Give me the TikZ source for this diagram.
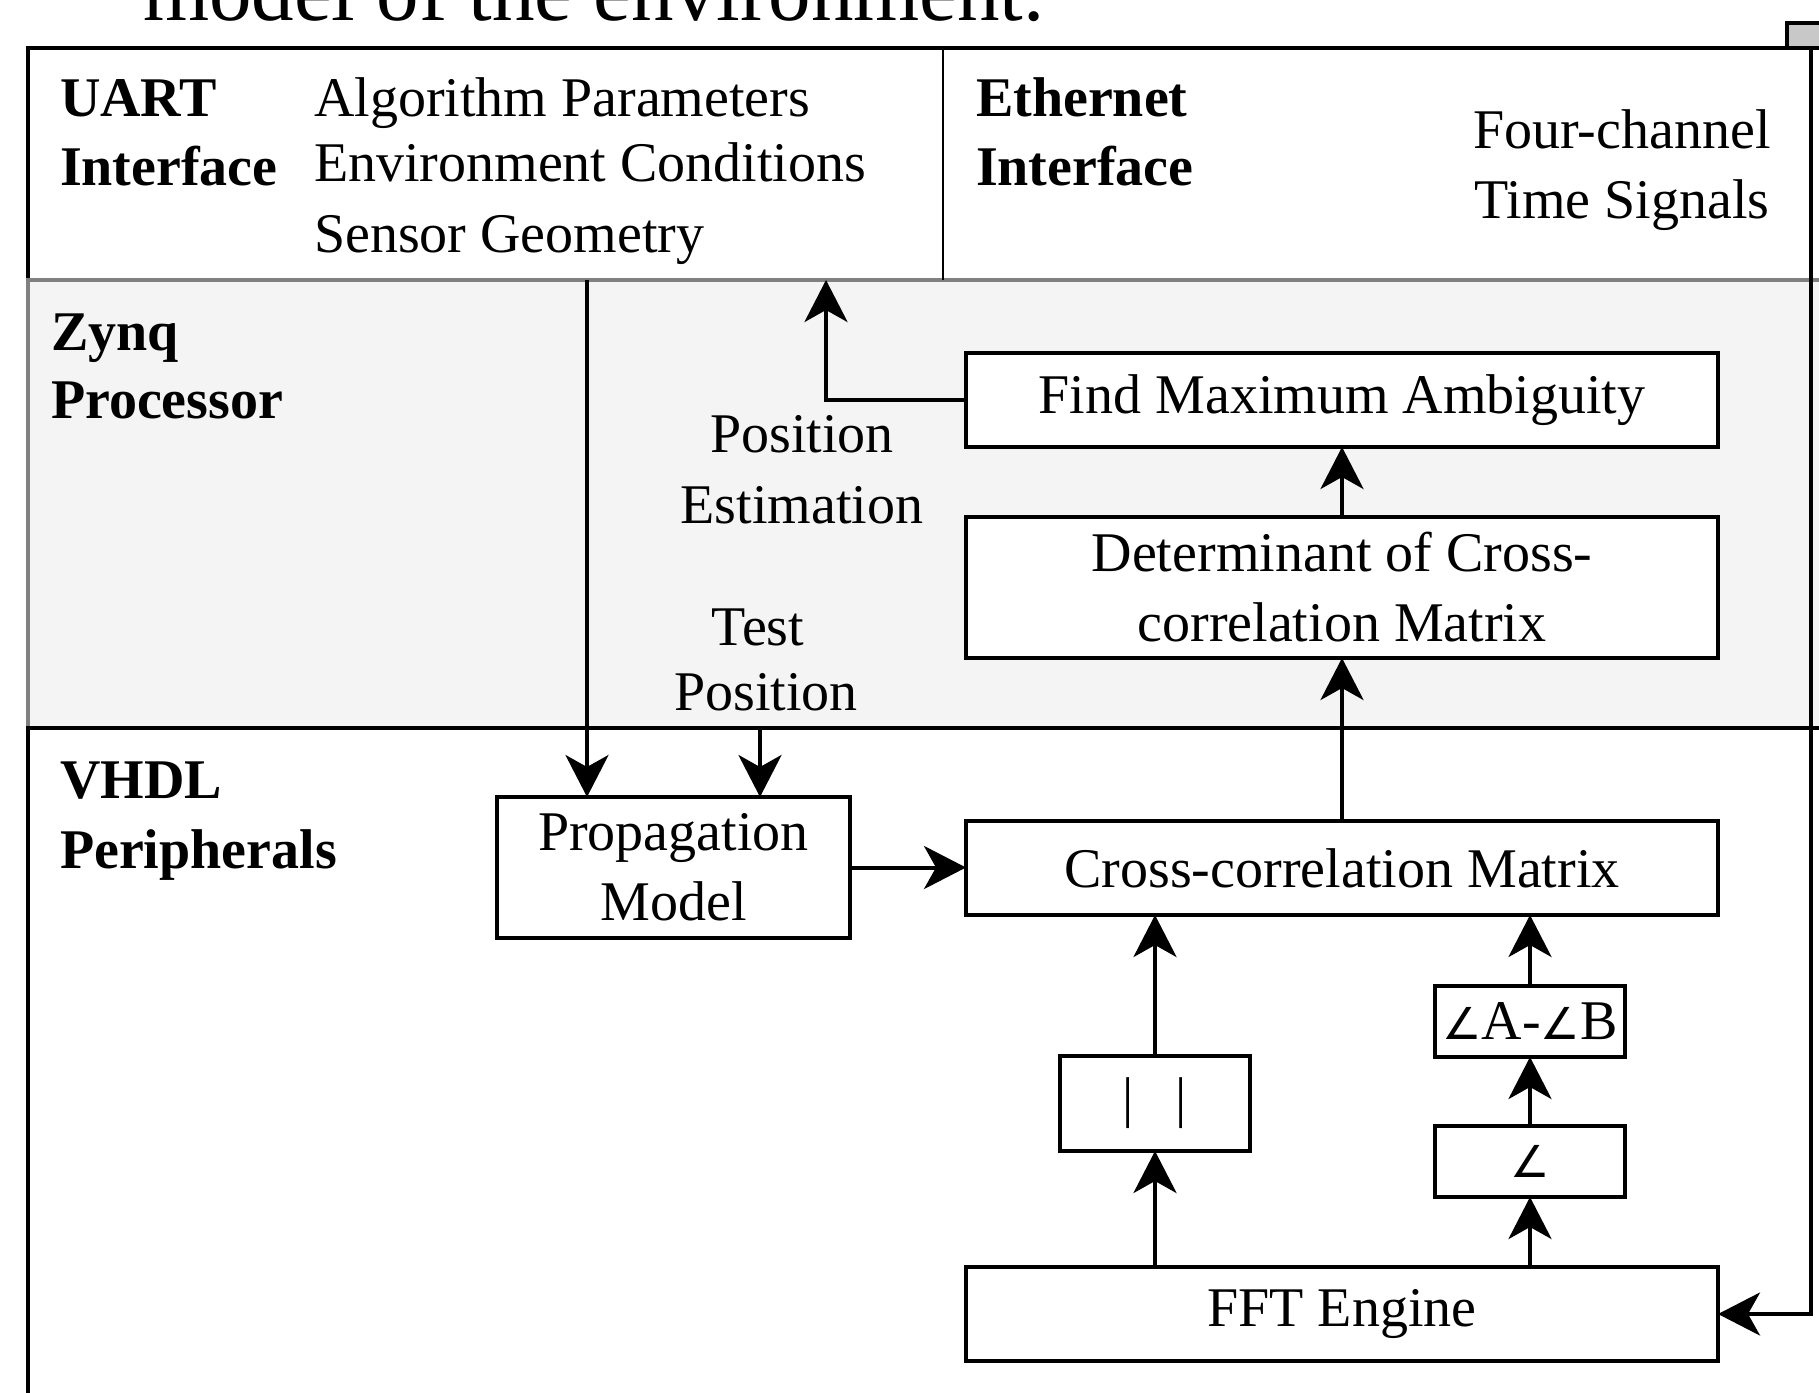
\documentclass[tikz,border=0pt]{standalone}
\usepackage{fontspec}
\setmainfont{Liberation Serif}
\newfontfamily\symfont{DejaVu Sans}
\usetikzlibrary{arrows.meta}
\definecolor{zfill}{HTML}{F4F4F4}
\definecolor{zline}{HTML}{808080}
\definecolor{portfill}{HTML}{C8C8C8}
\newcommand{\ang}{{\symfont\fontsize{22pt}{22pt}\selectfont ∠}}
\begin{document}
\begin{tikzpicture}[x=0.5pt,y=-0.5pt,
  every node/.style={font=\fontsize{28pt}{35pt}\selectfont, inner sep=0pt, outer sep=0pt},
  blk/.style={draw, line width=2pt, fill=white, rectangle, align=center},
  band/.style={draw, line width=2pt, rectangle, anchor=north west, minimum width=906pt},
  arr/.style={line width=2pt, -{Stealth[length=21pt,width=21.5pt,inset=6pt]}},
  lbl/.style={anchor=base west}]
\useasboundingbox (0,0) rectangle (1819,1392);
\clip (0,0) rectangle (1819,1392);

% cropped caption text at the top
\node[anchor=base west, font=\fontsize{42.5pt}{50pt}\selectfont] (caption) at (143,20) {model of the environment.};

% bands
\node[band, fill=white, minimum height=116pt] (topband) at (28,48) {};
\node[band, fill=zfill, draw=zline, minimum height=224pt] (zynqband) at (28,280) {};
\node[band, fill=white, minimum height=350pt] (vhdlband) at (28,728) {};
\draw[line width=1.4pt] (943,48) -- (943,280);
\node[draw, line width=2pt, fill=portfill, anchor=north west, minimum width=30pt, minimum height=12.5pt] (port) at (1787,23) {};

% band labels
\node[lbl] (uart1) at (60,116) {\bfseries UART};
\node[lbl] (uart2) at (60,185) {\bfseries Interface};
\node[lbl] (alg) at (314,116) {Algorithm Parameters};
\node[lbl] (env) at (314,181) {Environment Conditions};
\node[lbl] (geo) at (314,252) {Sensor Geometry};
\node[lbl] (eth1) at (976,116) {\bfseries Ethernet};
\node[lbl] (eth2) at (976,185) {\bfseries Interface};
\node[anchor=base] (four) at (1622,148) {Four-channel};
\node[anchor=base] (time) at (1622,218) {Time Signals};
\node[lbl] (zynq1) at (51,350) {\bfseries Zynq};
\node[lbl] (zynq2) at (51,418) {\bfseries Processor};
\node[anchor=base] (pe1) at (802,452) {Position};
\node[anchor=base] (pe2) at (802,523) {Estimation};
\node[anchor=base] (tp1) at (758,645) {Test};
\node[anchor=base] (tp2) at (766,710) {Position};
\node[lbl] (vhdl1) at (60,798) {\bfseries VHDL};
\node[lbl] (vhdl2) at (60,868) {\bfseries Peripherals};

% blocks
\node[blk, minimum width=376pt, minimum height=47pt] (fma) at (1342,400) {Find Maximum Ambiguity};
\node[blk, minimum width=376pt, minimum height=70.5pt] (det) at (1342,587.5) {Determinant of Cross-\\correlation Matrix};
\node[blk, minimum width=376pt, minimum height=47pt] (ccm) at (1342,868) {Cross-correlation Matrix};
\node[blk, minimum width=376pt, minimum height=47pt] (fft) at (1342,1314) {FFT Engine};
\node[blk, minimum width=176.5pt, minimum height=70.5pt] (prop) at (673.5,867.5) {Propagation\\Model};
\node[blk, minimum width=95pt, minimum height=47.5pt] (abs) at (1155,1103.5) {|\hspace{20.9pt}|};
\node[blk, minimum width=95pt, minimum height=35.5pt] (diff) at (1530,1021.5) {\ang A-\ang B};
\node[blk, minimum width=95pt, minimum height=35.5pt] (angb) at (1530,1161.5) {\ang};

% connector end points on the band borders
\coordinate (peEnd) at (826,280);
\coordinate (uartOut) at (587,280);
\coordinate (tpOut) at (760,728);
\coordinate (ethOut) at (1811,48);

% connectors
\draw[arr] (fft.north -| abs) -- (abs.south);
\draw[arr] (abs.north) -- (abs.north |- ccm.south);
\draw[arr] (fft.north -| angb) -- (angb.south);
\draw[arr] (angb.north) -- (diff.south);
\draw[arr] (diff.north) -- (diff.north |- ccm.south);
\draw[arr] (ccm.north) -- (det.south);
\draw[arr] (det.north) -- (fma.south);
\draw[arr] (fma.west) -| (peEnd);
\draw[arr] (uartOut) -- (uartOut |- prop.north);
\draw[arr] (tpOut) -- (tpOut |- prop.north);
\draw[arr] (prop.east) -- (prop.east -| ccm.west);
\draw[arr] (ethOut) |- (fft.east);
\end{tikzpicture}
\end{document}
